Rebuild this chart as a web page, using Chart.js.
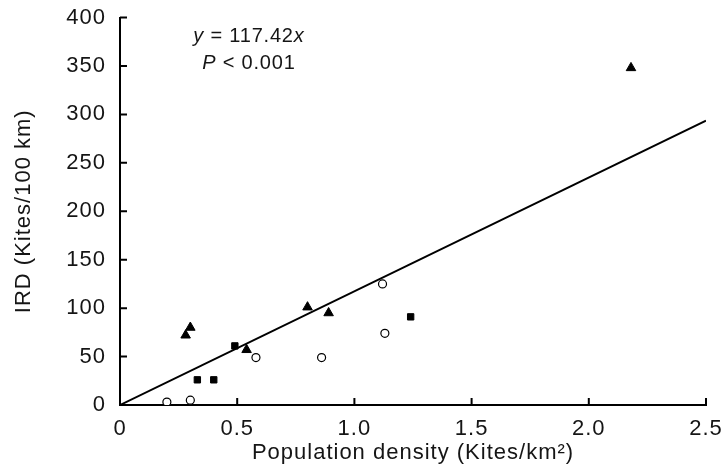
<!DOCTYPE html>
<html>
<head>
<meta charset="utf-8">
<script src="https://cdn.jsdelivr.net/npm/chart.js@4.4.0/dist/chart.umd.min.js"></script>
<style>
  html, body { margin: 0; padding: 0; background: #fff; }
  #wrap { width: 723px; height: 476px; }
</style>
</head>
<body>
<div id="wrap"><canvas id="chart" width="723" height="476"></canvas></div>
<script>
// data
const triangles = [
	{ x: 0.28, y: 72 }, { x: 0.30, y: 80 }, { x: 0.54, y: 57 },
	{ x: 0.80, y: 101 }, { x: 0.89, y: 95 }, { x: 2.18, y: 348 },
];
const squares = [
	{ x: 0.33, y: 26 }, { x: 0.40, y: 26 }, { x: 0.49, y: 61 }, { x: 1.24, y: 91 },
];
const circles = [
	{ x: 0.20, y: 3 }, { x: 0.30, y: 5 }, { x: 0.58, y: 49 },
	{ x: 0.86, y: 49 }, { x: 1.12, y: 125 }, { x: 1.13, y: 74 },
];
const slope = 117.42;
const xRange = [0, 2.5];
const yRange = [0, 400];
const eqLines = [
	[['y', true], [' = 117.42', false], ['x', true]],
	[['P', true], [' < 0.001', false]],
];

const FONT = '"Liberation Sans", Arial, sans-serif';
const INK = '#151515';

const fitLine = xRange.map(v => ({ x: v, y: slope * v }));

// the original lettering is a bit wider than Liberation Sans
const spacing = {
	id: 'spacing',
	beforeLayout(chart) { chart.ctx.letterSpacing = '1px'; },
	beforeDraw(chart) { chart.ctx.letterSpacing = '1px'; },
};

// inward tick marks and the equation text
const extras = {
	id: 'extras',
	afterDraw(chart) {
		const { ctx, chartArea, scales } = chart;
		ctx.save();
		ctx.strokeStyle = '#000';
		ctx.lineWidth = 2;
		ctx.beginPath();
		scales.x.ticks.forEach((t, i) => {
			const px = scales.x.getPixelForTick(i);
			ctx.moveTo(px, chartArea.bottom);
			ctx.lineTo(px, chartArea.bottom - 7);
		});
		scales.y.ticks.forEach((t, i) => {
			const py = scales.y.getPixelForTick(i);
			ctx.moveTo(chartArea.left, py);
			ctx.lineTo(chartArea.left + 7, py);
		});
		ctx.stroke();

		ctx.fillStyle = INK;
		ctx.textBaseline = 'middle';
		ctx.letterSpacing = '0.8px';
		const cx = scales.x.getPixelForValue(0.55);
		const rows = [380, 353];
		eqLines.forEach((parts, r) => {
			const widths = parts.map(([s, it]) => {
				ctx.font = (it ? 'italic ' : '') + '20px ' + FONT;
				return ctx.measureText(s).width;
			});
			let x = cx - widths.reduce((a, b) => a + b, 0) / 2;
			const y = scales.y.getPixelForValue(rows[r]);
			parts.forEach(([s, it], i) => {
				ctx.font = (it ? 'italic ' : '') + '20px ' + FONT;
				ctx.textAlign = 'left';
				ctx.fillText(s, x, y);
				x += widths[i];
			});
		});
		ctx.restore();
	},
};

new Chart(document.getElementById('chart').getContext('2d'), {
	type: 'scatter',
	data: {
		datasets: [
			{
				label: 'fit',
				data: fitLine,
				showLine: true,
				borderColor: '#000',
				borderWidth: 2,
				pointRadius: 0,
			},
			{
				label: 'triangles',
				data: triangles,
				pointStyle: 'triangle',
				pointRadius: 5.5,
				backgroundColor: '#000',
				borderColor: '#000',
				borderWidth: 1,
			},
			{
				label: 'squares',
				data: squares,
				pointStyle: 'rect',
				pointRadius: 4.5,
				backgroundColor: '#000',
				borderColor: '#000',
				borderWidth: 1,
			},
			{
				label: 'circles',
				data: circles,
				pointStyle: 'circle',
				pointRadius: 4,
				backgroundColor: '#fff',
				borderColor: '#000',
				borderWidth: 1.2,
			},
		],
	},
	options: {
		responsive: false,
		animation: false,
		layout: { padding: { top: 17.5, right: 17, left: 0, bottom: 0 } },
		plugins: { legend: { display: false }, tooltip: { enabled: false } },
		scales: {
			x: {
				type: 'linear',
				min: xRange[0],
				max: xRange[1],
				afterFit: s => { s.height = 71; },
				ticks: {
					stepSize: 0.5,
					padding: 0,
					color: INK,
					font: { family: FONT, size: 22 },
				},
				// invisible tick marks give the label gap without widening the layout
				grid: { drawOnChartArea: false, drawTicks: true, tickLength: 11, tickColor: 'rgba(0,0,0,0)' },
				border: { color: '#000', width: 2 },
				title: {
					display: true,
					text: 'Population density (Kites/km²)',
					color: INK,
					font: { family: FONT, size: 22 },
					padding: { top: 0, bottom: 10 },
				},
			},
			y: {
				type: 'linear',
				min: yRange[0],
				max: yRange[1],
				afterFit: s => { s.width = 120; },
				ticks: {
					stepSize: 50,
					padding: 0,
					color: INK,
					font: { family: FONT, size: 22 },
				},
				grid: { drawOnChartArea: false, drawTicks: true, tickLength: 14, tickColor: 'rgba(0,0,0,0)' },
				border: { color: '#000', width: 2 },
				title: {
					display: true,
					text: 'IRD (Kites/100 km)',
					color: INK,
					font: { family: FONT, size: 22 },
					padding: { top: 11, bottom: 0 },
				},
			},
		},
	},
	plugins: [spacing, extras],
});
</script>
</body>
</html>
